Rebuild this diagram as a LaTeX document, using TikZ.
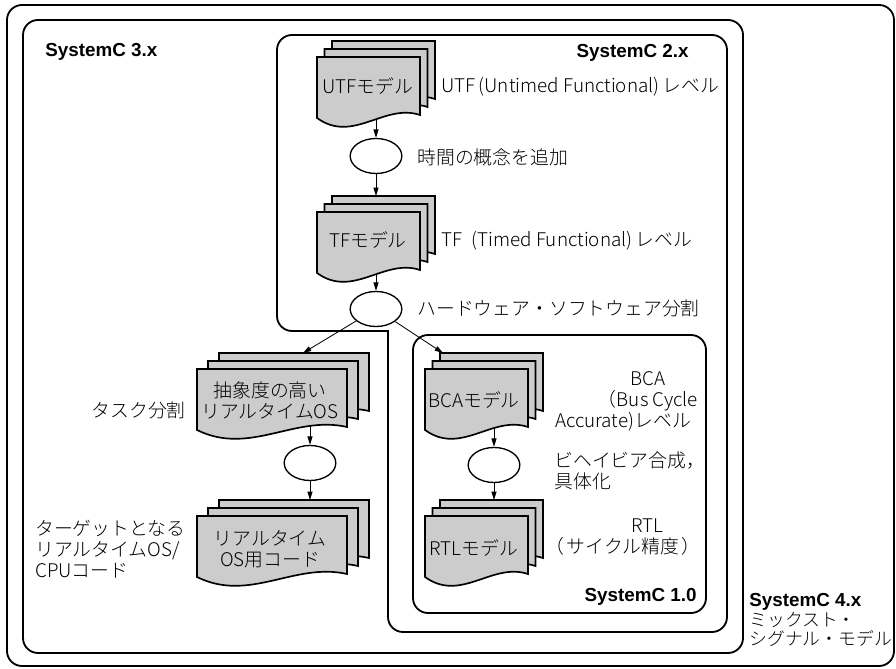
\documentclass[tikz,border=0pt]{standalone}
\usepackage{fontspec}
\IfFontExistsTF{Noto Sans CJK JP Light}
  {\setmainfont{Noto Sans CJK JP Light}}
  {\setmainfont{Noto Sans CJK JP}}
\newfontfamily\scfont{Liberation Sans}
\usepackage{tikz}
\usetikzlibrary{positioning, shapes.geometric, arrows.meta, backgrounds}
\tikzset{
  frame/.style={draw, line width=1.1pt, rounded corners=9pt},
  sheet/.style={draw, fill=black!20, line width=1pt},
  proc/.style={ellipse, draw, line width=0.8pt, minimum width=31pt, minimum height=21pt, inner sep=0pt},
  arrow/.style={-{Triangle[length=5pt, width=3pt]}, line width=0.5pt},
  lbl/.style={inner sep=0pt, font=\fontsize{11.3}{12.6}\selectfont},
  doctext/.style={lbl, align=center},
  ver/.style={inner sep=0pt, font=\scfont\bfseries\fontsize{11.3}{12.6}\selectfont},
}

% one sheet of a document: top-left x, y and width
\newcommand{\docpage}[3]{%
  \filldraw[sheet, shift={(#1,#2)}] (0,0) -- (#3,0) -- (#3,58)
    .. controls (0.65*#3,46) and (0.35*#3,87) .. (0,61) -- cycle;}
% three sheets, back to front; (#1-top) is the top of the last one
\newcommand{\docstack}[5]{%
  \docpage{#2+2*#5}{#3-16}{#4}
  \docpage{#2+#5}{#3-8}{#4}
  \docpage{#2}{#3}{#4}
  \coordinate (#1-top) at (#2+2*#5,#3-16);}

\begin{document}
\begin{tikzpicture}[x=0.6pt, y=-0.6pt]
  \useasboundingbox (0,0) rectangle (896,669);

  % Frames, outside in
  \draw[frame] (7,5) rectangle (894,666);
  \draw[frame] (23,20) rectangle (743,653);
  \draw[frame, line cap=rect] (388,331) -- (277,331) -- (277,35) -- (727,35) -- (727,632) -- (388,632) -- (388,331);
  \draw[frame] (413,335) rectangle (706,613);

  % Frame titles
  \node[ver, anchor=west] (sc3) at (45,52) {SystemC 3.x};
  \node[ver, anchor=east] (sc2) at (689,53) {SystemC 2.x};
  \node[ver, anchor=east] (sc1) at (697,597) {SystemC 1.0};
  \node[lbl, anchor=west, align=left, font=\fontsize{10.7}{11.8}\selectfont] (sc4) at (749,620)
    {{\scfont\bfseries\fontsize{11.3}{12.6}\selectfont SystemC 4.x}\\ミックスト・\\シグナル・モデル};

  % SystemC 2.x flow
  \docstack{utf}{317}{57}{103}{7.5}
  \node[doctext] (utf) at (368,86) {UTFモデル};
  \node[lbl, anchor=west] (utflbl) at (441,87) {UTF\,(Untimed Functional)\,レベル};
  \node[proc] (addtime) at (376,156) {};
  \node[lbl, anchor=west] (addtimelbl) at (417,157) {時間の概念を追加};
  \docstack{tf}{317}{212}{103}{7.5}
  \node[doctext] (tf) at (368,240) {TFモデル};
  \node[lbl, anchor=west] (tflbl) at (441,241) {TF\enspace(Timed Functional)\,レベル};
  \node[proc] (hwsw) at (376,309) {};
  \node[lbl, anchor=west] (hwswlbl) at (417,308) {ハードウェア・ソフトウェア分割};

  % Software side
  \docstack{rtos}{197}{369}{150}{11}
  \node[doctext] (rtos) at (270,400) {抽象度の高い\\リアルタイムOS};
  \node[lbl, anchor=east] (tasklbl) at (186,410) {タスク分割};
  \node[proc] (task) at (310,463) {};
  \docstack{code}{197}{516}{150}{11}
  \node[doctext] (code) at (270,549) {リアルタイム\\OS用コード};
  \node[lbl, anchor=west, align=left] (codelbl) at (35,549) {ターゲットとなる\\リアルタイムOS/\\CPUコード};

  % Hardware side
  \docstack{bca}{425}{369}{103}{7.5}
  \node[doctext] (bca) at (474,400) {BCAモデル};
  \node[lbl, align=center] (bcalbl) at (648,401) {BCA\\（Bus Cycle\\\hspace*{-30pt}Accurate)レベル};
  \node[proc] (behav) at (494,465) {};
  \node[lbl, anchor=west, align=left] (behavlbl) at (554,471) {ビヘイビア合成，\\具体化};
  \docstack{rtl}{425}{516}{103}{7.5}
  \node[doctext] (rtl) at (474,548) {RTLモデル};
  \node[lbl, align=center] (rtllbl) at (623,537) {\hspace*{29pt}RTL\\（\kern1.5pt サイクル精度\kern1.5pt）};

  % Connectors, behind the sheets
  \coordinate (rtos-in) at (303,353);
  \coordinate (bca-in) at (443,353);
  \begin{scope}[on background layer]
    \draw[arrow] (addtime |- utf.center) -- (addtime);
    \draw[arrow] (addtime) -- (addtime |- tf-top);
    \draw[arrow] (hwsw |- tf.center) -- (hwsw);
    \draw[arrow] (hwsw) -- (rtos-in);
    \draw[arrow] (hwsw) -- (bca-in);
    \draw[arrow] (task |- rtos.center) -- (task);
    \draw[arrow] (task) -- (task |- code-top);
    \draw[arrow] (behav |- bca.center) -- (behav);
    \draw[arrow] (behav) -- (behav |- rtl-top);
  \end{scope}
\end{tikzpicture}
\end{document}
